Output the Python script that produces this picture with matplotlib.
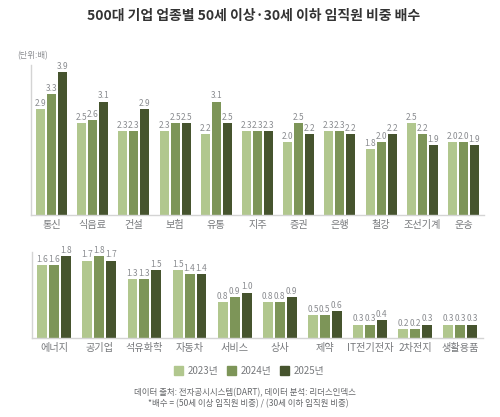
import matplotlib
matplotlib.use("Agg")
import matplotlib.pyplot as plt
from matplotlib.patches import Patch
import numpy as np

plt.rcParams['font.family'] = ['Noto Sans CJK KR', 'DejaVu Sans']

cats_top = ['통신', '식음료', '건설', '보험', '유통', '지주', '증권', '은행', '철강', '조선기계', '운송']
top_2023 = [2.9, 2.5, 2.3, 2.3, 2.2, 2.3, 2.0, 2.3, 1.8, 2.5, 2.0]
top_2024 = [3.3, 2.6, 2.3, 2.5, 3.1, 2.3, 2.5, 2.3, 2.0, 2.2, 2.0]
top_2025 = [3.9, 3.1, 2.9, 2.5, 2.5, 2.3, 2.2, 2.2, 2.2, 1.9, 1.9]

cats_bot = ['에너지', '공기업', '석유화학', '자동차', '서비스', '상사', '제약', 'IT전기전자', '2차전지', '생활용품']
bot_2023 = [1.6, 1.7, 1.3, 1.5, 0.8, 0.8, 0.5, 0.3, 0.2, 0.3]
bot_2024 = [1.6, 1.8, 1.3, 1.4, 0.9, 0.8, 0.5, 0.3, 0.2, 0.3]
bot_2025 = [1.8, 1.7, 1.5, 1.4, 1.0, 0.9, 0.6, 0.4, 0.3, 0.3]

years = ['2023년', '2024년', '2025년']
colors = ['#b1c78e', '#7d9558', '#46542e']
GREY = '#8a8c90'
W, H = 500, 417

fig = plt.figure(figsize=(W / 100, H / 100), dpi=100, facecolor='white')

def add_ax(x0, x1, ytop, ybase):
    return fig.add_axes([x0 / W, 1 - ybase / H, (x1 - x0) / W, (ybase - ytop) / H])

def panel(ax, cats, series, ymax, off, bw, fs):
    x = np.arange(len(cats))
    for i, vals in enumerate(series):
        xs = x + (i - 1) * off
        ax.bar(xs, vals, width=bw, color=colors[i], linewidth=0)
        for a, v in zip(xs, vals):
            ax.annotate(f'{v:.1f}', (a, v), xytext=(0, 0.8), textcoords='offset points',
                        ha='center', va='bottom', fontsize=fs, color=GREY)
    ax.set_xlim(-0.5, len(cats) - 0.5)
    ax.set_ylim(0, ymax)
    ax.set_yticks([])
    ax.set_xticks(x, cats)
    ax.tick_params(axis='x', length=0, pad=3.5, labelsize=7.3, labelcolor='#77797c')
    for s in ('top', 'right'):
        ax.spines[s].set_visible(False)
    for s in ('left', 'bottom'):
        ax.spines[s].set_color('#d4d4d4')
        ax.spines[s].set_linewidth(1)

ax1 = add_ax(31, 484, 65, 214.7)
panel(ax1, cats_top, [top_2023, top_2024, top_2025], 149.7 / 36.5, 0.267, 0.22, 6.0)
ax2 = add_ax(31.7, 482.7, 251.7, 338.3)
panel(ax2, cats_bot, [bot_2023, bot_2024, bot_2025], 86.6 / 45.7, 0.265, 0.22, 6.0)

fig.text(254 / W, 1 - 16 / H, '500대 기업 업종별 50세 이상·30세 이하 임직원 비중 배수',
         ha='center', va='center', fontsize=10, fontweight='bold', color='#333333')
fig.text(17 / W, 1 - 55.5 / H, '(단위:배)', ha='left', va='center', fontsize=6, color=GREY)

fig.legend(handles=[Patch(color=c, label=y) for c, y in zip(colors, years)],
           loc='center', bbox_to_anchor=(249 / W, 1 - 371 / H), ncol=3, frameon=False,
           fontsize=7, labelcolor='#77797c', handlelength=0.95, handleheight=1.0,
           handletextpad=0.5, columnspacing=0.85, borderpad=0, borderaxespad=0)

fig.text(244.5 / W, 1 - 392.5 / H, '데이터 출처: 전자공시시스템(DART), 데이터 분석: 리더스인덱스',
         ha='center', va='center', fontsize=6.1, color='#66686b')
fig.text(248 / W, 1 - 403.5 / H, '*배수 = (50세 이상 임직원 비중) / (30세 이하 임직원 비중)',
         ha='center', va='center', fontsize=6.1, color='#66686b')

fig.savefig('out.png', dpi=100, facecolor='white')
